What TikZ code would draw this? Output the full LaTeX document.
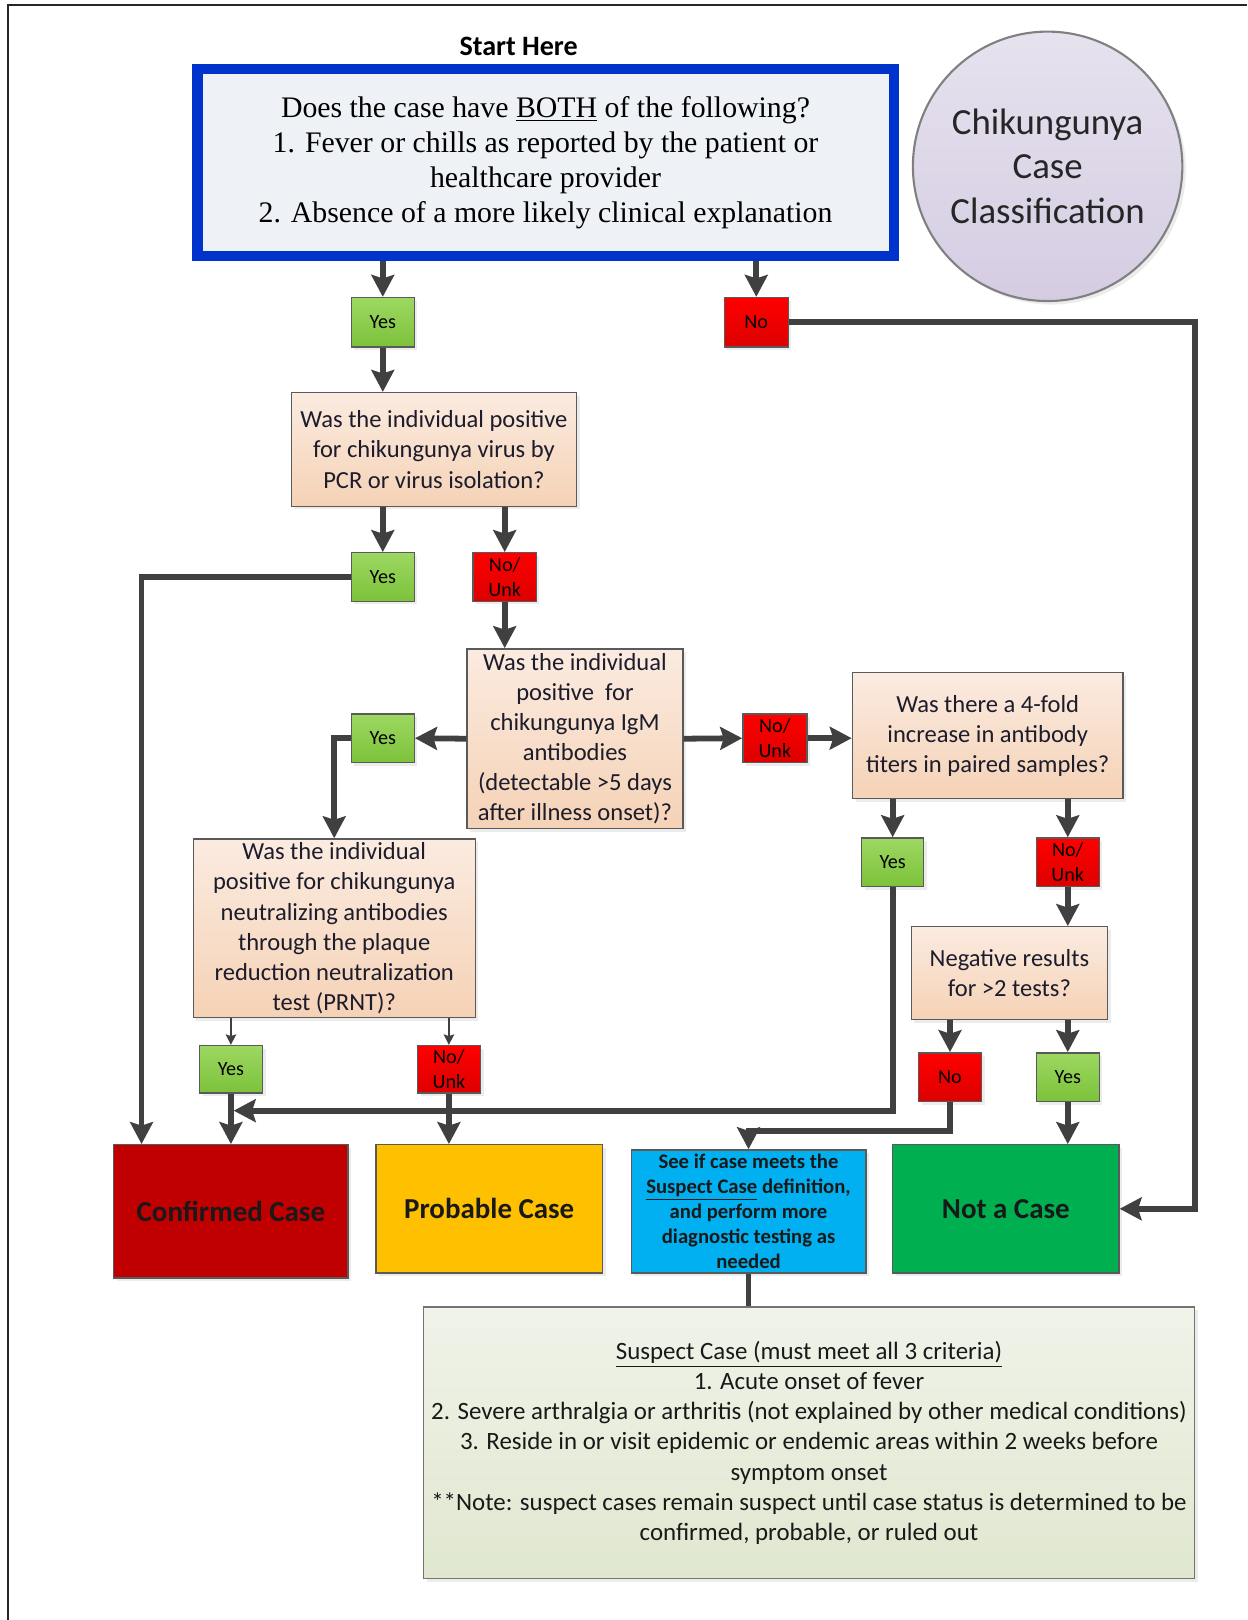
\documentclass[tikz,border=0pt]{standalone}
\usepackage{fontspec}
\setmainfont{Carlito}
\newfontfamily\cambria{Liberation Serif}
\usepackage{tikz}
\usetikzlibrary{positioning,shadows,arrows.meta}

\definecolor{arrgray}{HTML}{404040}
\definecolor{boxline}{HTML}{5A5A5A}
\definecolor{qtop}{HTML}{FBEBE0}
\definecolor{qbot}{HTML}{F5D2B6}
\definecolor{yestop}{HTML}{9DD862}
\definecolor{yesbot}{HTML}{7CC23A}
\definecolor{notop}{HTML}{FF0000}
\definecolor{nobot}{HTML}{DD0000}
\definecolor{startblue}{HTML}{0033CC}
\definecolor{startfill}{HTML}{EEF1F5}
\definecolor{circtop}{HTML}{E6E2EE}
\definecolor{circbot}{HTML}{D5CCE2}
\definecolor{critop}{HTML}{F0F3E9}
\definecolor{cribot}{HTML}{E0E7CF}
\definecolor{confred}{HTML}{C00000}
\definecolor{probyel}{HTML}{FFC000}
\definecolor{suspblue}{HTML}{00B0F0}
\definecolor{notgreen}{HTML}{00B050}
\definecolor{qtext}{HTML}{1C1C2C}

\begin{document}
\begin{tikzpicture}[
	x=0.0207cm, y=-0.0207cm,
	boxsize/.style 2 args={minimum width=#1*0.0207cm, minimum height=#2*0.0207cm},
	arr/.style={draw=arrgray, line width=3.3pt, -{Stealth[width=13pt,length=12.5pt,inset=2pt]}},
	thinarr/.style={draw=arrgray, line width=0.8pt, -{Stealth[width=6pt,length=6pt,inset=1pt]}},
	basebox/.style={draw=boxline, line width=0.8pt, inner sep=0pt, align=center,
		drop shadow={shadow xshift=1.8pt, shadow yshift=-1.8pt, opacity=.15}},
	yesbox/.style={basebox, boxsize={61}{47}, top color=yestop, bottom color=yesbot, text=black, font=\fontsize{11.5}{14}\selectfont},
	nobox/.style={basebox, boxsize={61}{47}, top color=notop, bottom color=nobot, text=black, font=\fontsize{11.5}{14}\selectfont},
	qbox/.style={basebox, top color=qtop, bottom color=qbot, text=qtext, font=\fontsize{14}{17.2}\selectfont},
	endbox/.style={basebox, text=black!90, font=\bfseries\fontsize{16.5}{20}\selectfont}]

	\useasboundingbox (0,0) rectangle (1207,1568);
	\draw[line width=1.1pt, black!85] (8,1568) -- (8,5) -- (1207,5);

	% title and start question
	\node[font=\bfseries\fontsize{16}{19}\selectfont] (title) at (502,45) {Start Here};
	\node[draw=startblue, line width=5.9pt, fill=startfill, inner sep=0pt, align=center,
		boxsize={674}{181}, font=\cambria\fontsize{17}{20}\selectfont] (start) at (528,157.5)
		{Does the case have \underline{BOTH} of the following?\\
		1. Fever or chills as reported by the patient or\\
		healthcare provider\\
		2. Absence of a more likely clinical explanation};
	\node[circle, draw=black!50, line width=1.2pt, top color=circtop, bottom color=circbot,
		minimum size=5.4cm, align=center, text=black!85, font=\fontsize{21}{25.5}\selectfont,
		drop shadow={shadow xshift=2pt, shadow yshift=-2pt, opacity=.15}] (title2) at (1014,161)
		{Chikungunya\\ Case\\ Classification};

	% answers and questions
	\node[yesbox, boxsize={61}{48}] (yes1) at (370.5,312) {Yes};
	\node[nobox, boxsize={62}{48}] (no1) at (732,312) {No};
	\node[qbox, boxsize={276}{110}] (pcr) at (420,435) {Was the individual positive\\ for chikungunya virus by\\ PCR or virus isolation?};
	\node[yesbox] (yes2) at (370.5,558.5) {Yes};
	\node[nobox] (nounk2) at (488.5,558.5) {No/\\ Unk};
	\node[qbox, boxsize={209}{174}] (igm) at (556.5,715) {Was the individual\\ positive~ for\\ chikungunya IgM\\ antibodies\\ (detectable >5 days\\ after illness onset)?};
	\node[yesbox] (yes3) at (370.5,714.5) {Yes};
	\node[nobox, boxsize={62}{47}] (nounk3) at (750,714.5) {No/\\ Unk};
	\node[qbox, boxsize={262}{122}] (titer) at (956,712) {Was there a 4-fold\\ increase in antibody\\ titers in paired samples?};
	\node[yesbox, boxsize={60}{47}] (yes5) at (864,834.5) {Yes};
	\node[nobox] (nounk5) at (1033.5,834.5) {No/\\ Unk};
	\node[qbox, boxsize={190}{90}] (neg) at (977,942) {Negative results\\ for >2 tests?};
	\node[nobox] (no6) at (919.5,1042.5) {No};
	\node[yesbox] (yes6) at (1033.5,1042.5) {Yes};
	\node[qbox, boxsize={273}{173}] (prnt) at (323.5,898.5) {Was the individual\\ positive for chikungunya\\ neutralizing antibodies\\ through the plaque\\ reduction neutralization\\ test (PRNT)?};
	\node[yesbox, boxsize={61}{46}] (yes4) at (223.5,1035) {Yes};
	\node[nobox, boxsize={61}{46}] (nounk4) at (434.5,1035) {No/\\ Unk};

	% outcomes
	\node[endbox, boxsize={227}{129}, fill=confred] (confirmed) at (223.5,1172.5) {Confirmed Case};
	\node[endbox, boxsize={219}{124}, fill=probyel] (probable) at (473.5,1170) {Probable Case};
	\node[basebox, boxsize={227}{119}, fill=suspblue, text=black!90,
		font=\bfseries\fontsize{11.8}{14.2}\selectfont] (suspect) at (724.5,1172.5)
		{See if case meets the\\ \underline{Suspect Case} definition,\\ and perform more\\ diagnostic testing as\\ needed};
	\node[endbox, boxsize={219}{124}, fill=notgreen] (notcase) at (973.5,1170) {Not a Case};
	\node[basebox, boxsize={746}{263}, draw=black!55, top color=critop, bottom color=cribot, text=black!90,
		font=\fontsize{14.2}{17.2}\selectfont] (crit) at (783,1396.5)
		{\underline{Suspect Case (must meet all 3 criteria)}\\
		1. Acute onset of fever\\
		2. Severe arthralgia or arthritis (not explained by other medical conditions)\\
		3. Reside in or visit epidemic or endemic areas within 2 weeks before\\
		symptom onset\\
		{}**Note: suspect cases remain suspect until case status is determined to be\\
		confirmed, probable, or ruled out};

	% connectors
	\coordinate (rt) at (1157,0);
	\coordinate (lf) at (137,0);
	\coordinate (jmid) at (0,1075);
	\coordinate (jlow) at (0,1095);
	\draw[arr] (yes1 |- start.south) -- (yes1.north);
	\draw[arr] (no1 |- start.south) -- (no1.north);
	\draw[arr] (no1.east) -- (no1.east -| rt) |- (notcase.east);
	\draw[arr] (yes1.south) -- (yes1 |- pcr.north);
	\draw[arr] (yes2 |- pcr.south) -- (yes2.north);
	\draw[arr] (nounk2 |- pcr.south) -- (nounk2.north);
	\draw[arr] (yes2.west) -| (lf |- confirmed.north);
	\draw[arr] (nounk2.south) -- (nounk2 |- igm.north);
	\draw[arr] (igm.west) -- (yes3.east);
	\draw[arr] (yes3.west) -| (prnt.north);
	\draw[arr] (igm.east) -- (nounk3.west);
	\draw[arr] (nounk3.east) -- (nounk3.east -| titer.west);
	\draw[arr] (yes5 |- titer.south) -- (yes5.north);
	\draw[arr] (nounk5 |- titer.south) -- (nounk5.north);
	\draw[arr] (nounk5.south) -- (nounk5 |- neg.north);
	\draw[arr] (no6 |- neg.south) -- (no6.north);
	\draw[arr] (yes6 |- neg.south) -- (yes6.north);
	\draw[arr] (yes6.south) -- (yes6 |- notcase.north);
	\draw[arr] (no6.south) -- (no6 |- jlow) -| (suspect.north);
	\draw[thinarr] (yes4 |- prnt.south) -- (yes4.north);
	\draw[thinarr] (nounk4 |- prnt.south) -- (nounk4.north);
	\draw[arr] (yes4.south) -- (yes4 |- confirmed.north);
	\draw[arr] (nounk4.south) -- (nounk4 |- probable.north);
	\draw[arr, shorten >=1.6pt] (yes5.south) |- (yes4 |- jmid);
	\draw[draw=arrgray, line width=3.3pt] (suspect.south) -- (suspect.south |- crit.north);
\end{tikzpicture}
\end{document}
